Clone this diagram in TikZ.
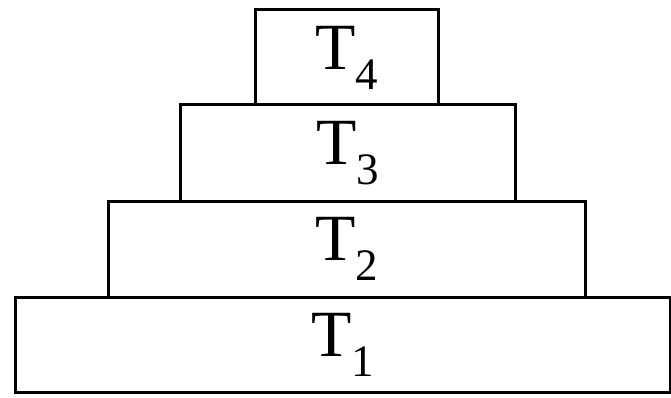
\documentclass[tikz,border=0pt]{standalone}
\usepackage{fontspec}
\setmainfont{Liberation Serif}
\usetikzlibrary{positioning}
\newcommand{\tier}[1]{T\raisebox{-20pt}{\fontsize{45}{45}\selectfont #1}}
\tikzset{layer/.style={draw,line width=3pt,inner sep=0pt,outer sep=0pt,
  font=\fontsize{66}{66}\selectfont}}
\begin{document}
\begin{tikzpicture}[x=1pt,y=-1pt]
\useasboundingbox (0,0) rectangle (671,398);
\node[layer,minimum width=655pt,minimum height=95pt] (t1) at (342.5,344.5) {\tier{1}};
\node[layer,minimum width=477pt,minimum height=96pt] (t2) at (346.5,249) {\tier{2}};
\node[layer,minimum width=335pt,minimum height=96pt] (t3) at (347.5,153) {\tier{3}};
\node[layer,minimum width=183pt,minimum height=95pt] (t4) at (346.5,57.5) {\tier{4}};
\end{tikzpicture}
\end{document}
